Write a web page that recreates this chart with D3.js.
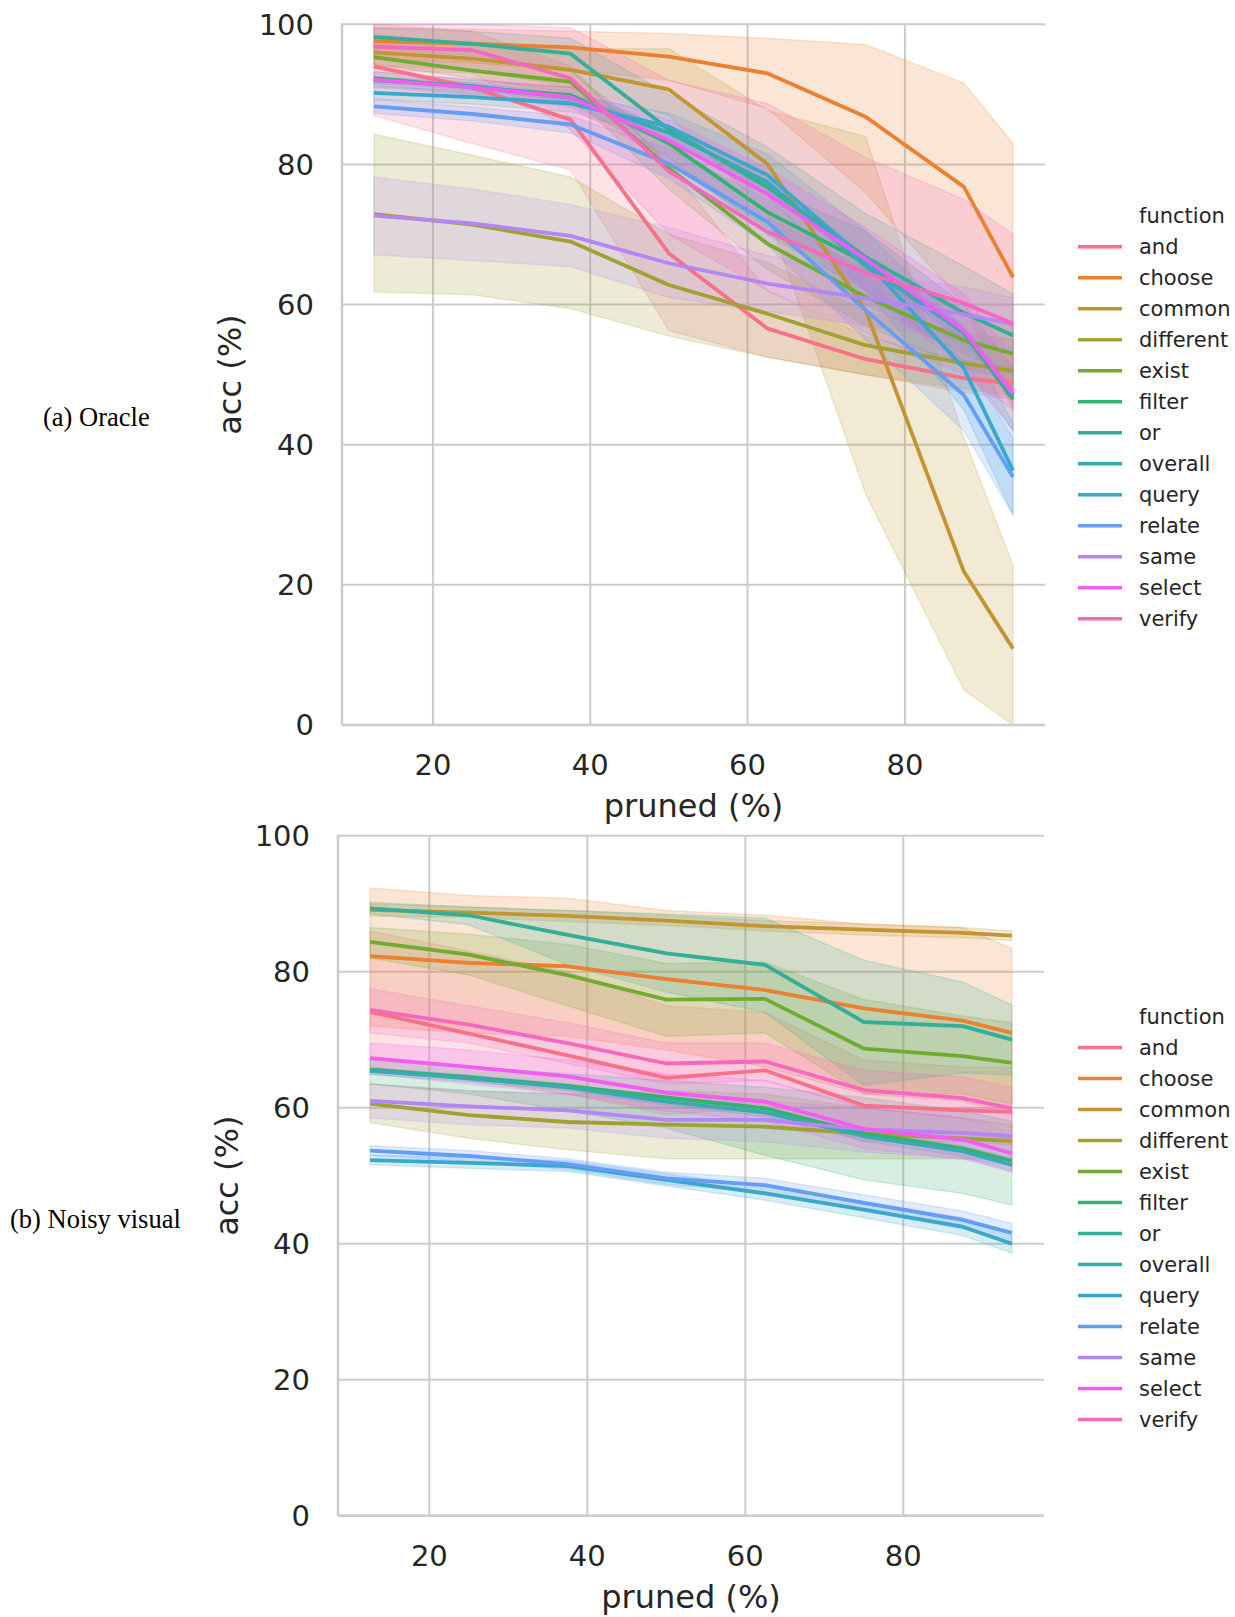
<!DOCTYPE html>
<html>
<head>
<meta charset="utf-8">
<script src="https://cdn.jsdelivr.net/npm/d3@7"></script>
<style>
  body { margin: 0; background: #fff; }
  svg { display: block; }
</style>
</head>
<body>
<svg id="chart"></svg>
<script>
// ---------------- data ----------------
const functions = ["and", "choose", "common", "different", "exist", "filter", "or",
                   "overall", "query", "relate", "same", "select", "verify"];
const pruned = [12.5, 25, 37.5, 50, 62.5, 75, 87.5, 93.75];
const xTicks = [20, 40, 60, 80];
const yTicks = [0, 20, 40, 60, 80, 100];

// (a) Oracle: mean acc per function (same order as `functions`)
const oracleAcc = [
  [94.0, 91.0, 86.4, 67.3, 56.6, 52.2, 49.5, 48.7],
  [97.6, 97.2, 96.7, 95.4, 93.0, 86.8, 76.8, 63.9],
  [96.0, 95.1, 93.5, 90.7, 80.1, 59.2, 21.9, 10.9],
  [72.9, 71.4, 69.0, 62.8, 58.7, 54.2, 51.6, 50.5],
  [95.3, 93.4, 91.8, 79.5, 68.7, 61.1, 54.9, 53.0],
  [92.3, 91.0, 89.9, 83.0, 73.2, 66.0, 56.0, 46.5],
  [98.2, 97.2, 95.8, 85.0, 76.8, 66.8, 58.8, 55.6],
  [92.0, 91.2, 89.5, 84.5, 77.5, 65.5, 56.0, 47.0],
  [90.2, 89.6, 88.7, 85.4, 78.5, 66.3, 50.9, 36.3],
  [88.3, 87.2, 85.7, 80.1, 71.8, 59.2, 47.1, 35.4],
  [72.7, 71.6, 69.8, 65.9, 63.0, 60.9, 58.6, 57.2],
  [92.1, 91.0, 89.6, 83.4, 75.8, 66.5, 56.3, 47.3],
  [96.8, 96.3, 92.3, 79.0, 70.4, 64.5, 60.2, 57.3]
];
const oracleLo = [
  [87.0, 83.0, 79.2, 56.3, 52.5, 50.0, 47.5, 46.5],
  [95.0, 94.5, 93.5, 92.0, 88.0, 76.0, 60.0, 45.0],
  [94.0, 93.5, 91.0, 87.0, 73.0, 33.0, 5.0, 0.0],
  [61.8, 61.4, 59.4, 55.5, 52.5, 50.0, 48.0, 47.0],
  [94.3, 92.3, 90.2, 76.5, 65.0, 57.0, 51.0, 49.0],
  [91.3, 90.0, 88.8, 81.0, 70.0, 62.0, 52.0, 42.0],
  [96.5, 95.5, 93.5, 80.0, 71.0, 60.0, 53.0, 50.0],
  [91.5, 90.7, 89.0, 83.8, 76.5, 65.0, 55.0, 46.0],
  [89.3, 88.6, 87.5, 83.5, 75.5, 62.0, 45.0, 30.0],
  [87.3, 86.2, 84.5, 78.0, 68.5, 55.0, 42.0, 30.0],
  [67.1, 66.3, 65.4, 61.0, 59.0, 57.0, 55.0, 53.5],
  [91.0, 89.8, 88.2, 80.5, 72.0, 62.0, 51.0, 42.0],
  [93.5, 93.0, 85.0, 70.0, 62.0, 56.0, 50.0, 45.0]
];
const oracleHi = [
  [100, 99.0, 94.0, 80.0, 62.0, 55.5, 52.0, 51.0],
  [99.5, 99.3, 99.0, 98.7, 98.0, 97.1, 91.6, 83.0],
  [98.0, 97.5, 96.5, 96.5, 87.7, 84.0, 41.0, 22.8],
  [84.3, 81.3, 78.2, 70.0, 66.0, 59.0, 56.0, 55.0],
  [96.3, 94.7, 93.3, 82.5, 72.5, 65.0, 59.0, 57.0],
  [93.3, 92.0, 91.0, 85.0, 76.5, 70.5, 60.0, 51.0],
  [99.5, 99.0, 98.0, 90.0, 82.5, 73.0, 65.5, 61.5],
  [92.5, 91.7, 90.0, 85.2, 78.5, 67.0, 57.0, 48.0],
  [91.1, 90.6, 89.9, 87.3, 81.5, 70.5, 56.5, 43.0],
  [89.3, 88.2, 86.9, 82.2, 75.0, 63.5, 52.0, 41.0],
  [78.2, 76.5, 74.3, 71.0, 67.0, 64.5, 62.5, 61.0],
  [93.2, 92.2, 91.0, 86.3, 79.5, 71.0, 61.5, 52.5],
  [100, 100, 99.5, 92.0, 88.7, 81.0, 75.0, 70.0]
];

// (b) Noisy visual
const noisyAcc = [
  [74.1, 70.9, 67.7, 64.4, 65.5, 60.3, 59.6, 59.4],
  [82.3, 81.3, 80.8, 78.9, 77.3, 74.6, 72.8, 71.0],
  [89.1, 88.7, 88.2, 87.5, 86.7, 86.2, 85.7, 85.3],
  [60.6, 58.9, 57.9, 57.5, 57.2, 56.2, 55.5, 55.1],
  [84.4, 82.5, 79.5, 75.9, 76.0, 68.7, 67.6, 66.6],
  [65.6, 64.5, 63.2, 61.5, 59.9, 56.2, 54.0, 52.2],
  [89.3, 88.3, 85.4, 82.7, 81.0, 72.6, 72.0, 70.0],
  [65.4, 64.3, 63.0, 60.9, 59.3, 55.8, 53.6, 51.6],
  [52.3, 51.9, 51.4, 49.4, 47.4, 45.0, 42.5, 40.0],
  [53.7, 52.9, 51.7, 49.6, 48.6, 46.0, 43.5, 41.6],
  [61.0, 60.2, 59.6, 58.2, 58.2, 56.8, 56.3, 55.8],
  [67.3, 66.0, 64.6, 62.2, 60.9, 56.9, 55.3, 53.3],
  [74.4, 72.2, 69.5, 66.5, 66.8, 62.6, 61.4, 59.9]
];
const noisyLo = [
  [66.0, 64.0, 62.0, 59.0, 60.0, 55.0, 55.0, 54.5],
  [72.0, 71.0, 70.5, 68.5, 66.0, 62.0, 61.0, 59.0],
  [88.2, 88.0, 87.4, 86.8, 86.0, 85.4, 85.0, 84.6],
  [57.8, 55.5, 53.8, 52.5, 52.5, 52.5, 52.5, 52.5],
  [82.0, 79.5, 75.0, 70.5, 71.0, 62.0, 62.0, 60.5],
  [63.5, 62.0, 59.5, 57.0, 53.0, 49.4, 47.4, 45.7],
  [88.5, 86.9, 81.0, 77.0, 74.0, 63.3, 65.1, 64.8],
  [64.9, 63.8, 62.5, 60.4, 58.7, 55.1, 52.8, 50.7],
  [51.6, 51.1, 50.6, 48.5, 46.4, 43.8, 41.2, 38.6],
  [53.0, 52.1, 50.9, 48.7, 47.6, 44.8, 42.2, 40.2],
  [58.5, 57.5, 57.0, 55.5, 55.0, 53.5, 52.5, 51.5],
  [65.0, 63.5, 62.0, 59.5, 58.0, 54.0, 52.5, 50.5],
  [71.0, 69.5, 66.5, 63.5, 64.0, 60.0, 58.5, 57.0]
];
const noisyHi = [
  [86.0, 83.0, 80.0, 75.0, 74.0, 67.0, 66.0, 66.0],
  [92.3, 91.2, 90.8, 89.0, 88.3, 87.0, 86.5, 83.4],
  [90.0, 89.5, 89.0, 88.3, 87.5, 87.0, 86.5, 86.0],
  [63.5, 62.5, 62.0, 62.5, 62.0, 60.0, 58.5, 57.5],
  [86.5, 85.5, 84.0, 81.2, 81.4, 75.9, 73.5, 72.5],
  [67.0, 66.0, 65.0, 64.0, 63.0, 61.5, 59.5, 58.0],
  [90.2, 89.5, 89.0, 88.5, 87.9, 81.7, 78.5, 75.1],
  [65.9, 64.8, 63.5, 61.4, 59.9, 56.5, 54.4, 52.5],
  [53.0, 52.7, 52.2, 50.3, 48.4, 46.2, 43.8, 41.4],
  [54.4, 53.7, 52.5, 50.5, 49.6, 47.2, 44.8, 43.0],
  [63.5, 62.5, 62.0, 61.0, 61.0, 60.0, 60.0, 60.0],
  [69.5, 68.5, 67.0, 65.0, 64.0, 60.0, 58.5, 56.5],
  [77.5, 75.0, 72.5, 69.5, 69.5, 65.5, 64.5, 63.0]
];

// ---------------- palette (seaborn husl, 13 hues) ----------------
const M = [[3.2406, -1.5372, -0.4986], [-0.9689, 1.8758, 0.0415], [0.0557, -0.2040, 1.0570]];
const refU = 0.19784, refV = 0.46834, kappa = 903.2963, epsilon = 0.0088564;

function maxChroma(L, H) {
  let hrad = H / 360 * 2 * Math.PI, sinH = Math.sin(hrad), cosH = Math.cos(hrad);
  let sub1 = Math.pow(L + 16, 3) / 1560896;
  let sub2 = sub1 > epsilon ? sub1 : L / kappa;
  let result = Infinity;
  M.forEach(([m1, m2, m3]) => {
    let top = (0.99915 * m1 + 1.05122 * m2 + 1.14460 * m3) * sub2;
    let rbottom = 0.86330 * m3 - 0.17266 * m2;
    let lbottom = 0.12949 * m3 - 0.38848 * m1;
    let bottom = (rbottom * sinH + lbottom * cosH) * sub2;
    [0, 1].forEach(t => {
      let C = L * (top - 1.05122 * t) / (bottom + 0.17266 * sinH * t);
      if (C > 0 && C < result) result = C;
    });
  });
  return result;
}

function huslToRgb(H, S, L) {
  let C = maxChroma(L, H) / 100 * S;
  let hrad = H / 360 * 2 * Math.PI;
  let U = Math.cos(hrad) * C, V = Math.sin(hrad) * C;
  let t = (L + 16) / 116;
  let Y = Math.pow(t, 3) > epsilon ? Math.pow(t, 3) : (116 * t - 16) / kappa;
  let varU = U / (13 * L) + refU;
  let varV = V / (13 * L) + refV;
  let X = -(9 * Y * varU) / ((varU - 4) * varV - varU * varV);
  let Z = (9 * Y - 15 * varV * Y - varV * X) / (3 * varV);
  let rgb = M.map(r => r[0] * X + r[1] * Y + r[2] * Z)
    .map(c => c <= 0.0031308 ? 12.92 * c : 1.055 * Math.pow(c, 1 / 2.4) - 0.055)
    .map(c => Math.round(Math.max(0, Math.min(1, c)) * 255));
  return d3.rgb(rgb[0], rgb[1], rgb[2]).formatHex();
}

const colors = d3.range(functions.length).map(i => {
  let h = ((i / functions.length + 0.01) % 1) * 359;
  return huslToRgb(h, 0.9 * 99, 0.65 * 99);
});
const color = d3.scaleOrdinal().domain(functions).range(colors);

// ---------------- layout ----------------
const width = 1235, height = 1617;
const textColor = "#262626", gridColor = "#cccccc";
const sans = "'DejaVu Sans', sans-serif";

const panels = [
  {acc: oracleAcc, lo: oracleLo, hi: oracleHi, tag: "(a) Oracle",
   left: 342, right: 1045, top: 24.3, bottom: 725, ylabX: 230, legendY: 215.7, tagX: 43, tagY: 426},
  {acc: noisyAcc, lo: noisyLo, hi: noisyHi, tag: "(b) Noisy visual",
   left: 338, right: 1044, top: 835.7, bottom: 1515.7, ylabX: 227, legendY: 1016.5, tagX: 10, tagY: 1228}
];

let svg = d3.select("#chart")
    .attr("width", width)
    .attr("height", height)
    .style("font-family", sans);

panels.forEach((p, pi) => {
  let x = d3.scaleLinear().domain([8.4375, 97.8125]).range([p.left, p.right]);
  let y = d3.scaleLinear().domain([0, 100]).range([p.bottom, p.top]);

  let g = svg.append("g");

  // grid
  g.append("g").selectAll("line.gx")
    .data(xTicks).join("line")
      .attr("x1", d => x(d)).attr("x2", d => x(d))
      .attr("y1", p.top).attr("y2", p.bottom)
      .attr("stroke", gridColor).attr("stroke-width", 2);
  g.append("g").selectAll("line.gy")
    .data(yTicks).join("line")
      .attr("x1", p.left).attr("x2", p.right)
      .attr("y1", d => y(d)).attr("y2", d => y(d))
      .attr("stroke", gridColor).attr("stroke-width", 2);

  // clip
  let clipId = "clip" + pi;
  svg.append("clipPath").attr("id", clipId)
    .append("rect")
      .attr("x", p.left).attr("y", p.top)
      .attr("width", p.right - p.left).attr("height", p.bottom - p.top);

  let plot = g.append("g").attr("clip-path", `url(#${clipId})`);

  let area = d3.area()
    .x((d, i) => x(pruned[i]))
    .y0(d => y(d[0]))
    .y1(d => y(d[1]));

  let line = d3.line()
    .x((d, i) => x(pruned[i]))
    .y(d => y(d));

  // confidence bands (under all lines)
  plot.append("g").selectAll("path")
    .data(functions).join("path")
      .attr("d", (f, k) => area(p.lo[k].map((v, i) => [v, p.hi[k][i]])))
      .attr("fill", f => color(f)).attr("fill-opacity", 0.2)
      .attr("stroke", f => color(f)).attr("stroke-opacity", 0.2)
      .attr("stroke-width", 1.5);

  // mean lines
  plot.append("g").selectAll("path")
    .data(functions).join("path")
      .attr("d", (f, k) => line(p.acc[k]))
      .attr("fill", "none")
      .attr("stroke", f => color(f))
      .attr("stroke-width", 3.8)
      .attr("stroke-linejoin", "round");

  // spines
  g.append("line")
    .attr("x1", p.left).attr("x2", p.left)
    .attr("y1", p.top - 1).attr("y2", p.bottom)
    .attr("stroke", gridColor).attr("stroke-width", 2.5);
  g.append("line")
    .attr("x1", p.left).attr("x2", p.right)
    .attr("y1", p.bottom).attr("y2", p.bottom)
    .attr("stroke", gridColor).attr("stroke-width", 2.5);

  // tick labels
  g.append("g").selectAll("text")
    .data(yTicks).join("text")
      .attr("x", p.left - 28).attr("y", d => y(d))
      .attr("dy", "0.36em")
      .attr("text-anchor", "end")
      .attr("fill", textColor)
      .style("font-size", "29px")
      .text(d => d);
  g.append("g").selectAll("text")
    .data(xTicks).join("text")
      .attr("x", d => x(d)).attr("y", p.bottom + 50)
      .attr("text-anchor", "middle")
      .attr("fill", textColor)
      .style("font-size", "29px")
      .text(d => d);

  // axis labels
  g.append("text")
    .attr("x", (p.left + p.right) / 2).attr("y", p.bottom + 92)
    .attr("text-anchor", "middle")
    .attr("fill", textColor)
    .style("font-size", "32px")
    .text("pruned (%)");
  g.append("text")
    .attr("transform", `translate(${p.ylabX + 11}, ${(p.top + p.bottom) / 2}) rotate(-90)`)
    .attr("text-anchor", "middle")
    .attr("fill", textColor)
    .style("font-size", "32px")
    .text("acc (%)");

  // panel tag
  g.append("text")
    .attr("x", p.tagX).attr("y", p.tagY)
    .attr("fill", "#000")
    .style("font-family", "'Liberation Serif', 'Times New Roman', serif")
    .style("font-size", "26.5px")
    .text(p.tag);

  // legend
  let legend = g.append("g").attr("transform", `translate(0, ${p.legendY})`);
  legend.append("text")
    .attr("x", 1139).attr("y", 0).attr("dy", "0.35em")
    .attr("fill", textColor)
    .style("font-size", "21px")
    .text("function");
  let item = legend.selectAll("g.item")
    .data(functions).join("g")
      .attr("class", "item")
      .attr("transform", (f, i) => `translate(0, ${(i + 1) * 31})`);
  item.append("line")
    .attr("x1", 1078).attr("x2", 1122)
    .attr("stroke", f => color(f)).attr("stroke-width", 3.5);
  item.append("text")
    .attr("x", 1139).attr("dy", "0.35em")
    .attr("fill", textColor)
    .style("font-size", "21px")
    .text(f => f);
});
</script>
</body>
</html>
